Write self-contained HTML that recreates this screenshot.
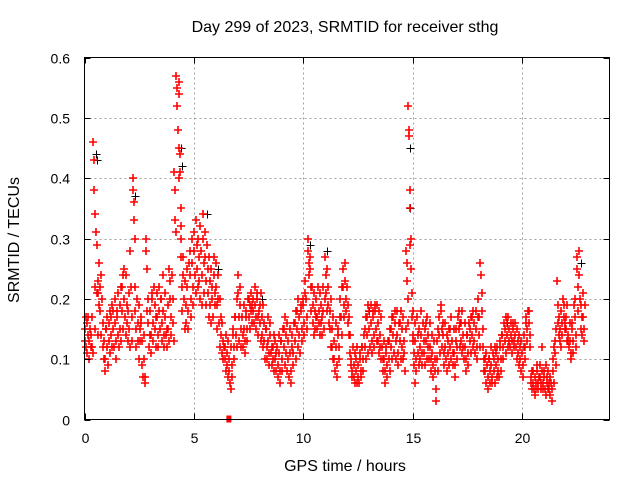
<!DOCTYPE html>
<html><head><meta charset="utf-8"><style>
html,body{margin:0;padding:0;background:#fff;}
svg{display:block;font-family:"Liberation Sans",sans-serif;}
</style></head><body>
<svg id="chart" width="640" height="480" viewBox="0 0 640 480" xmlns="http://www.w3.org/2000/svg">
<rect width="640" height="480" fill="#fff"/>
<g id="grid"></g>
<g id="black"></g>
<g id="red"></g>
<rect x="84.5" y="57.5" width="525" height="362" fill="none" stroke="#000" stroke-width="1"/>
<g id="axes"></g>
<text x="345" y="32" text-anchor="middle" font-size="16">Day 299 of 2023, SRMTID for receiver sthg</text>
<text x="345" y="471" text-anchor="middle" font-size="16">GPS time / hours</text>
<text x="19" y="240" text-anchor="middle" font-size="16" transform="rotate(-90 19 240)">SRMTID / TECUs</text>
</svg>
<script>
const xTicks = [0, 5, 10, 15, 20];
const yTicks = [0, 0.1, 0.2, 0.3, 0.4, 0.5, 0.6];
const yTickLabels = ["0", "0.1", "0.2", "0.3", "0.4", "0.5", "0.6"];
const redTimes = [0.0,0.1,0.2,0.3,0.4,0.5,0.6,0.7,0.8,0.9,1.0,1.1,1.2,1.3,1.4,1.5,1.6,1.7,1.8,1.9,2.0,2.1,2.2,2.3,2.4,2.5,2.6,2.7,2.8,2.9,3.0,3.1,3.2,3.3,3.4,3.5,3.6,3.7,3.8,3.9,4.0,4.1,4.2,4.3,4.4,4.5,4.6,4.7,4.8,4.9,5.0,5.1,5.2,5.3,5.4,5.5,5.6,5.7,5.8,5.9,6.0,6.1,6.2,6.3,6.4,6.5,6.6,6.7,6.8,6.9,7.0,7.1,7.2,7.3,7.4,7.5,7.6,7.7,7.8,7.9,8.0,8.1,8.2,8.3,8.4,8.5,8.6,8.7,8.8,8.9,9.0,9.1,9.2,9.3,9.4,9.5,9.6,9.7,9.8,9.9,10.0,10.1,10.2,10.3,10.4,10.5,10.6,10.7,10.8,10.9,11.0,11.1,11.2,11.3,11.4,11.5,11.6,11.7,11.8,11.9,12.0,12.1,12.2,12.3,12.4,12.5,12.6,12.7,12.8,12.9,13.0,13.1,13.2,13.3,13.4,13.5,13.6,13.7,13.8,13.9,14.0,14.1,14.2,14.3,14.4,14.5,14.6,14.7,14.8,14.9,15.0,15.1,15.2,15.3,15.4,15.5,15.6,15.7,15.8,15.9,16.0,16.1,16.2,16.3,16.4,16.5,16.6,16.7,16.8,16.9,17.0,17.1,17.2,17.3,17.4,17.5,17.6,17.7,17.8,17.9,18.0,18.1,18.2,18.3,18.4,18.5,18.6,18.7,18.8,18.9,19.0,19.1,19.2,19.3,19.4,19.5,19.6,19.7,19.8,19.9,20.0,20.1,20.2,20.3,20.4,20.5,20.6,20.7,20.8,20.9,21.0,21.1,21.2,21.3,21.4,21.5,21.6,21.7,21.8,21.9,22.0,22.1,22.2,22.3,22.4,22.5,22.6,22.7,22.8];
const redValues = [
[.15,.13,.17,.12],[.16,.11,.14,.17],[.13,.10,.15,.12],[.14,.12,.17,.11],[.46,.43,.38,.22,.15],[.34,.31,.29,.21,.14],[.23,.21,.19,.26],[.22,.18,.14,.24],[.20,.16,.12,.10],[.13,.10,.08,.15],
[.15,.12,.17,.09],[.16,.13,.18,.11],[.17,.14,.19,.12],[.18,.15,.12,.20],[.16,.13,.10,.18],[.17,.14,.21,.12],[.19,.15,.22,.13],[.22,.18,.15,.24],[.25,.20,.17,.14],[.24,.19,.16,.13],
[.18,.15,.21,.12],[.28,.22,.17,.13],[.40,.38,.36,.33,.30],[.22,.18,.15,.12],[.20,.16,.13,.10],[.19,.15,.13,.17],[.16,.13,.09,.07],[.14,.10,.07,.06],[.30,.28,.25,.18],[.20,.16,.12,.14],
[.18,.14,.11,.21],[.20,.16,.13,.22],[.19,.15,.12,.17],[.21,.17,.14,.12],[.22,.18,.15,.20],[.20,.16,.13,.24],[.18,.14,.12,.21],[.17,.14,.12,.15],[.19,.15,.13,.25],[.23,.20,.17,.14],
[.24,.20,.16,.13],[.41,.38,.33,.31],[.57,.55,.52,.48,.45,.40],[.56,.54,.44,.41,.35,.30],[.32,.27,.22,.18],[.27,.24,.20,.15],[.23,.19,.16,.25],[.22,.18,.15,.26],[.28,.24,.20,.17],[.30,.26,.22,.19],
[.31,.28,.24,.21],[.33,.29,.25,.22],[.30,.27,.23,.20],[.32,.28,.24,.19],[.34,.30,.26,.21],[.31,.27,.23,.19],[.29,.25,.21,.17],[.27,.23,.19,.16],[.25,.22,.20,.17],[.27,.24,.21,.19],
[.26,.22,.19,.15],[.24,.20,.16,.12],[.20,.17,.14,.11],[.16,.13,.10,.12],[.12,.10,.08,.14],[.11,.09,.07,.13],[.10,.08,.06,.05],[.12,.09,.07,.14],[.15,.12,.10,.17],[.17,.14,.12,.20],
[.24,.21,.17,.13],[.22,.19,.15,.12],[.17,.14,.12,.19],[.15,.13,.11,.17],[.18,.15,.13,.20],[.20,.17,.15,.19],[.21,.18,.16,.19],[.20,.18,.16,.22],[.19,.17,.15,.21],[.20,.17,.14,.18],
[.19,.16,.13,.21],[.17,.14,.12,.19],[.16,.13,.10,.15],[.15,.12,.10,.17],[.13,.11,.09,.16],[.14,.11,.09,.12],[.12,.10,.08,.14],[.13,.10,.08,.11],[.12,.09,.07,.14],[.11,.08,.06,.13],
[.13,.10,.08,.15],[.15,.12,.09,.17],[.14,.11,.08,.16],[.13,.10,.07,.15],[.11,.08,.06,.12],[.14,.11,.09,.16],[.16,.13,.10,.18],[.18,.15,.12,.20],[.17,.14,.11,.19],[.18,.15,.13,.20],
[.19,.16,.14,.21],[.23,.20,.17,.15],[.30,.28,.26,.24],[.27,.25,.22,.18],[.22,.19,.16,.14],[.21,.18,.15,.17],[.20,.17,.15,.22],[.18,.16,.14,.21],[.19,.16,.14,.17],[.22,.18,.15,.20],
[.27,.24,.21,.18],[.25,.22,.19,.16],[.18,.15,.12,.20],[.15,.12,.10,.17],[.13,.10,.08,.16],[.12,.09,.07,.14],[.15,.12,.10,.17],[.20,.17,.14,.22],[.25,.22,.19,.17],[.26,.23,.20,.18],
[.22,.19,.16,.14],[.17,.14,.11,.09],[.10,.08,.07,.12],[.09,.07,.06,.11],[.10,.08,.06,.12],[.09,.07,.06,.11],[.10,.08,.07,.12],[.12,.10,.08,.14],[.15,.12,.10,.17],[.17,.14,.11,.19],
[.18,.15,.12,.19],[.16,.13,.11,.18],[.17,.14,.12,.19],[.18,.15,.13,.19],[.16,.13,.11,.18],[.14,.12,.10,.17],[.12,.10,.08,.13],[.10,.08,.06,.12],[.11,.09,.07,.13],[.13,.10,.08,.15],
[.15,.12,.10,.17],[.17,.14,.11,.18],[.16,.13,.10,.18],[.14,.11,.09,.16],[.16,.13,.10,.18],[.15,.12,.10,.17],[.13,.11,.08,.15],[.28,.26,.23,.20,.16],[.52,.48,.47,.38,.35,.30],[.29,.25,.21,.17,.13],
[.18,.14,.11,.09,.06],[.16,.13,.10,.08],[.17,.14,.11,.09],[.15,.12,.10,.18],[.14,.11,.09,.16],[.13,.11,.09,.15],[.16,.13,.10,.17],[.14,.12,.10,.16],[.12,.10,.08,.14],[.11,.09,.07,.13],
[.10,.08,.05,.03],[.13,.10,.08,.15],[.17,.14,.11,.19],[.18,.15,.12,.16],[.14,.11,.09,.16],[.12,.10,.08,.14],[.13,.11,.09,.15],[.15,.12,.10,.17],[.13,.11,.09,.15],[.11,.09,.07,.13],
[.15,.12,.10,.17],[.18,.15,.12,.16],[.16,.13,.11,.18],[.14,.12,.10,.16],[.12,.10,.08,.14],[.14,.11,.09,.16],[.15,.13,.11,.17],[.17,.14,.12,.18],[.16,.13,.11,.18],[.15,.12,.10,.17],
[.20,.17,.14,.12],[.26,.24,.21,.18],[.15,.12,.10,.08],[.10,.08,.06,.11],[.09,.07,.05,.10],[.10,.08,.06,.12],[.09,.07,.06,.11],[.10,.08,.06,.12],[.11,.09,.07,.12],[.10,.08,.07,.13],
[.12,.10,.08,.14],[.14,.12,.10,.16],[.15,.13,.11,.17],[.16,.14,.12,.17],[.15,.13,.12,.16],[.14,.13,.11,.16],[.15,.13,.12,.16],[.14,.12,.10,.15],[.13,.11,.09,.14],[.12,.10,.08,.13],
[.11,.09,.07,.12],[.14,.12,.10,.16],[.17,.15,.13,.18],[.18,.16,.14,.12],[.07,.06,.05,.08],[.08,.06,.05,.04],[.07,.06,.05,.09],[.08,.06,.05,.07],[.09,.07,.05,.06],[.12,.08,.06,.05],
[.08,.07,.05,.04],[.09,.07,.06,.05],[.08,.06,.05,.04],[.07,.06,.05,.03],[.10,.08,.06,.12],[.13,.11,.09,.15],[.23,.19,.16,.14],[.17,.15,.13,.12],[.18,.16,.14,.20],[.19,.17,.15,.16],
[.17,.15,.13,.19],[.14,.13,.12,.16],[.13,.11,.10,.15],[.16,.13,.11,.19],[.20,.17,.14,.12],[.27,.25,.22,.18],[.28,.24,.20,.15],[.19,.17,.14,.21],[.17,.15,.13,.19]
];
const blackTimes = [0.45,0.5,2.2,4.3,4.35,5.5,10.2,11.0,14.8,14.8,19.2,22.6,6.0,8.0,12.9];
const blackValues = [0.44,0.43,0.37,0.45,0.42,0.34,0.29,0.28,0.45,0.35,0.16,0.26,0.25,0.2,0.18];
const squareTimes = [6.6];
const squareValues = [0];

const X0 = 84.5, X1 = 609.5, Y0 = 419.5, Y1 = 57.5, XMAX = 24, YMAX = 0.6;
function xs(t){ return X0 + (X1 - X0) * t / XMAX; }
function ys(v){ return Y0 - (Y0 - Y1) * v / YMAX; }
const NS = "http://www.w3.org/2000/svg";
function mk(tag, attrs, parent){
  const e = document.createElementNS(NS, tag);
  for (const k in attrs) e.setAttribute(k, attrs[k]);
  parent.appendChild(e);
  return e;
}
const grid = document.getElementById('grid');
const axes = document.getElementById('axes');
xTicks.forEach(function(t){
  const x = Math.round(xs(t)) + 0.5;
  if (t > 0) {
    const g = mk('line', {x1:x, x2:x, y1:Y1, y2:Y0, stroke:'#a0a0a0', 'stroke-dasharray':'2,3'}, grid);
    
    
  }
  const tk = mk('path', {d:'M'+x+' '+Y0+'v-6M'+x+' '+Y1+'v6', stroke:'#000'}, axes);
  
  
  const lb = mk('text', {x:x, y:443, 'text-anchor':'middle', 'font-size':'14'}, axes);
  lb.textContent = String(t);
  
  
});
yTicks.forEach(function(v, i){
  const y = Math.round(ys(v)) + 0.5;
  if (v > 0 && v < YMAX) {
    const g = mk('line', {x1:X0, x2:X1, y1:y, y2:y, stroke:'#a0a0a0', 'stroke-dasharray':'2,3'}, grid);
    
    
  }
  const tk = mk('path', {d:'M'+X0+' '+y+'h6M'+X1+' '+y+'h-6', stroke:'#000'}, axes);
  
  
  const lb = mk('text', {x:70, y:y+5, 'text-anchor':'end', 'font-size':'14'}, axes);
  lb.textContent = yTickLabels[i];
  
  
});
function plus(x, y, color, w, parent){
  return mk('path', {d:'M'+(x-4)+' '+y+'h8M'+x+' '+(y-4)+'v8', stroke:color, 'stroke-width':w, fill:'none'}, parent);
}
const blackG = document.getElementById('black');
blackTimes.forEach(function(t, i){
  const p = plus(Math.round(xs(t)) + 2.5, Math.round(ys(blackValues[i])) + 0.5, '#000', '1', blackG);
  
  
});
const redG = document.getElementById('red');
redTimes.forEach(function(t, i){
  redValues[i].forEach(function(v, j){
    const x = Math.round(xs(t + j * 0.025));
    const p = plus(x, Math.round(ys(v)), '#ff0000', '1.6', redG);
    
    
  });
});
squareTimes.forEach(function(t, i){
  const r = mk('rect', {x:xs(t)-2.5, y:ys(squareValues[i])-4, width:5, height:7, fill:'#ff0000'}, redG);
  
  
});
</script>
</body></html>
